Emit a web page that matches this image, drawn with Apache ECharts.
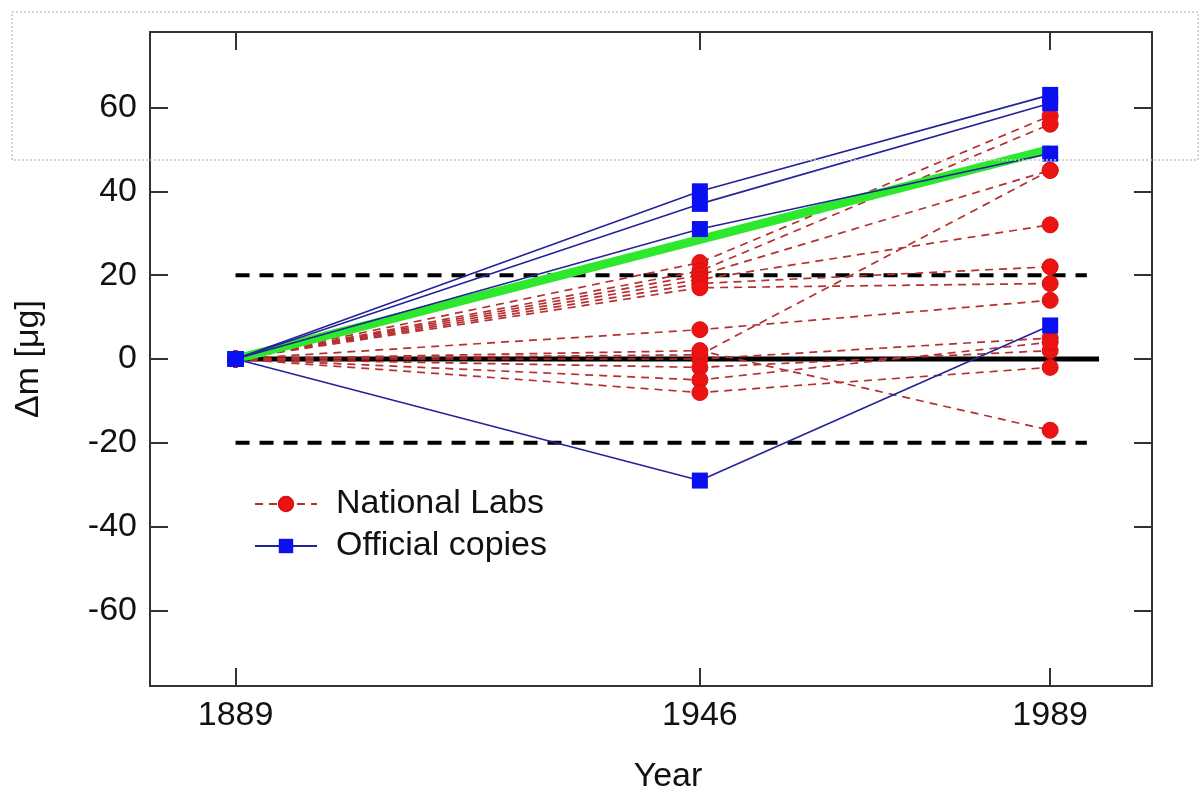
<!DOCTYPE html>
<html>
<head>
<meta charset="utf-8">
<title>Mass drift of the kilogram copies</title>
<script src="https://cdn.jsdelivr.net/npm/echarts@6/dist/echarts.min.js"></script>
<style>
  html, body { margin: 0; padding: 0; background: #fff; }
  #chart { width: 1200px; height: 792px; }
</style>
</head>
<body>
<div id="chart"></div>
<script>
// verification years
const years = [1889, 1946, 1989]
const yTicks = [-60, -40, -20, 0, 20, 40, 60]

// national lab copies, mass change (µg) vs prototype
const labs1946 = [23, 21, 20, 19, 18, 17, 7, 1, 0, 2, -2, -5, -8]
const labs1989 = [58, 56, 45, 32, 22, 18, 14, 45, 5, -17, 2, 4, -2]

// official copies
const copies1946 = [40, 37, 31, -29]
const copies1989 = [63, 61, 49, 8]

// fitted drift (green) and reference lines
const driftYears = [1889, 1989]
const driftValues = [0, 50]
const zeroLineYears = [1889, 1995]
const limitYears = [1889, 1993.5]
const limits = [20, -20]

const font = '"Liberation Sans", Arial, sans-serif'

const series = []

// black zero line
series.push({
  type: 'line',
  silent: true,
  symbol: 'none',
  z: 1,
  data: zeroLineYears.map(x => [x, 0]),
  lineStyle: { color: '#000', width: 5 }
})

// ±20 dashed limits
limits.forEach(v => {
  series.push({
    type: 'line',
    silent: true,
    symbol: 'none',
    z: 1,
    data: limitYears.map(x => [x, v]),
    lineStyle: { color: '#000', width: 4, type: [14, 10] }
  })
})

// national labs, one line each
labs1946.forEach((v, i) => {
  series.push({
    name: 'National Labs',
    type: 'line',
    z: 2,
    symbol: 'circle',
    symbolSize: 16,
    data: [[years[0], 0], [years[1], v], [years[2], labs1989[i]]],
    itemStyle: { color: '#ee1313', borderColor: '#d81010', borderWidth: 1 },
    lineStyle: { color: '#b53030', width: 1.7, type: [8, 6] }
  })
})

// green drift line
series.push({
  type: 'line',
  silent: true,
  symbol: 'none',
  z: 3,
  data: driftYears.map((x, i) => [x, driftValues[i]]),
  lineStyle: { color: '#2ee82e', width: 9 }
})

// official copies
copies1946.forEach((v, i) => {
  series.push({
    name: 'Official copies',
    type: 'line',
    z: 4,
    symbol: 'rect',
    symbolSize: 16,
    data: [[years[0], 0], [years[1], v], [years[2], copies1989[i]]],
    itemStyle: { color: '#0a10f0' },
    lineStyle: { color: '#23239a', width: 1.6 }
  })
})

const axisLine = { show: true, onZero: false, lineStyle: { color: '#333', width: 2 } }

const option = {
  animation: false,
  backgroundColor: '#fff',
  textStyle: { fontFamily: font },
  grid: { left: 150, right: 48, top: 32, bottom: 106, outerBoundsMode: 'none', containLabel: false },
  legend: {
    orient: 'vertical',
    left: 249,
    top: 482,
    itemWidth: 62,
    itemHeight: 18,
    itemGap: 8,
    data: ['National Labs', 'Official copies'],
    textStyle: { fontSize: 34, color: '#111', fontFamily: font, padding: [0, 0, 0, 14] }
  },
  graphic: [{
    type: 'rect',
    silent: true,
    z: 100,
    shape: { x: 12, y: 12, width: 1186, height: 148 },
    style: { fill: 'none', stroke: '#c8c8c8', lineWidth: 1.5, lineDash: [2, 2] }
  }],
  xAxis: [{
    type: 'value',
    position: 'bottom',
    min: 1878.5,
    max: 2001.5,
    name: 'Year',
    nameLocation: 'middle',
    nameGap: 74,
    nameTextStyle: { fontSize: 34, color: '#111', fontFamily: font, padding: [0, 0, 0, 34] },
    axisLine: axisLine,
    axisTick: { show: true, inside: true, length: 18, customValues: years, lineStyle: { color: '#333', width: 2 } },
    axisLabel: { customValues: years, fontSize: 34, color: '#111', margin: 13, formatter: v => String(v) },
    splitLine: { show: false }
  }, {
    type: 'value',
    position: 'top',
    min: 1878.5,
    max: 2001.5,
    axisLine: axisLine,
    axisTick: { show: true, inside: true, length: 18, customValues: years, lineStyle: { color: '#333', width: 2 } },
    axisLabel: { show: false },
    splitLine: { show: false }
  }],
  yAxis: [{
    type: 'value',
    position: 'left',
    min: -78,
    max: 78,
    name: 'Δm [μg]',
    nameLocation: 'middle',
    nameGap: 104,
    nameTextStyle: { fontSize: 34, color: '#111', fontFamily: font },
    axisLine: axisLine,
    axisTick: { show: true, inside: true, length: 18, customValues: yTicks, lineStyle: { color: '#333', width: 2 } },
    axisLabel: { customValues: yTicks, fontSize: 34, color: '#111', margin: 13, formatter: v => String(v) },
    splitLine: { show: false }
  }, {
    type: 'value',
    position: 'right',
    min: -78,
    max: 78,
    axisLine: axisLine,
    axisTick: { show: true, inside: true, length: 18, customValues: yTicks, lineStyle: { color: '#333', width: 2 } },
    axisLabel: { show: false },
    splitLine: { show: false }
  }],
  series: series
}

const myChart = echarts.init(document.getElementById('chart'), null, { renderer: 'canvas' })
myChart.setOption(option)
</script>
</body>
</html>
